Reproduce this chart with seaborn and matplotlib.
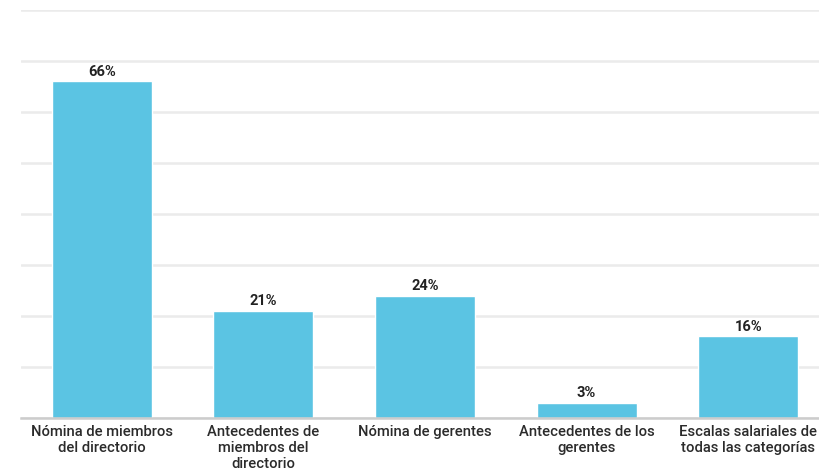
import matplotlib
matplotlib.use('Agg')
import matplotlib.pyplot as plt
import seaborn as sns
import pandas as pd

categories = ['Nómina de miembros\ndel directorio',
              'Antecedentes de\nmiembros del\ndirectorio',
              'Nómina de gerentes',
              'Antecedentes de los\ngerentes',
              'Escalas salariales de\ntodas las categorías']
values = [66, 21, 24, 3, 16]

df = pd.DataFrame({'cat': categories, 'val': values})

sns.set_style('white')
plt.rcParams['font.family'] = ['Roboto', 'DejaVu Sans']

fig = plt.figure(figsize=(8.19, 4.73), dpi=100)
ax = fig.add_axes([21/819, 55/473, 808/819, 408/473])

sns.barplot(data=df, x='cat', y='val', ax=ax, color='#5BC4E3',
            saturation=1, width=0.62)

ax.set_ylim(0, 80)
ax.set_xlim(-0.5, 4.5)
ax.set_yticks(range(0, 81, 10))
ax.set_yticklabels([])
ax.tick_params(axis='y', length=0)
ax.tick_params(axis='x', length=0, pad=5, labelsize=10.6, labelcolor='#2b2b2b')
for lbl in ax.get_xticklabels():
    lbl.set_fontweight('medium')
ax.yaxis.grid(True, color='#EBEBEB', linewidth=1.8)
ax.set_axisbelow(True)
for s in ['top', 'right', 'left']:
    ax.spines[s].set_visible(False)
ax.spines['bottom'].set_color('#CCCCCC')
ax.spines['bottom'].set_linewidth(1.8)
ax.set_xlabel('')
ax.set_ylabel('')

for i, v in enumerate(values):
    ax.text(i, v + 0.5, f'{v}%', ha='center', va='bottom', fontsize=10.5,
            fontweight='bold', color='#222222')

fig.savefig('out.png', dpi=100)
